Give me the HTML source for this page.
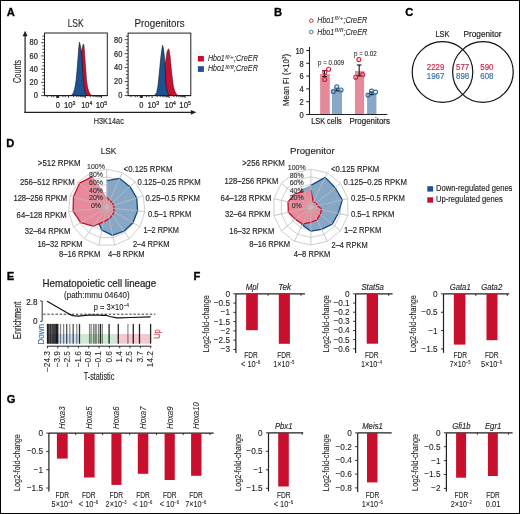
<!DOCTYPE html>
<html><head><meta charset="utf-8"><style>
html,body{margin:0;padding:0;background:#fff;}
#fig{position:relative;width:520px;height:514px;box-sizing:border-box;border:1px solid #000;overflow:hidden;background:#fff;}
svg{position:absolute;left:-1px;top:-1px;will-change:transform;}
text{font-family:"Liberation Sans",sans-serif;}
</style></head><body><div id="fig">
<svg width="520" height="514" viewBox="0 0 520 514" fill="#231f20">
<text stroke="#000" stroke-width="0.3" x="6.72" y="15.7" font-size="11.2" fill="#000" font-weight="bold">A</text>
<text stroke="#000" stroke-width="0.3" x="273.95" y="15.6" font-size="11.2" fill="#000" font-weight="bold">B</text>
<text stroke="#000" stroke-width="0.3" x="405.34" y="15.8" font-size="11.2" fill="#000" font-weight="bold">C</text>
<text stroke="#000" stroke-width="0.3" x="6.35" y="147" font-size="11.2" fill="#000" font-weight="bold">D</text>
<text stroke="#000" stroke-width="0.3" x="6.65" y="280" font-size="11.2" fill="#000" font-weight="bold">E</text>
<text stroke="#000" stroke-width="0.3" x="193.55" y="279.6" font-size="11.2" fill="#000" font-weight="bold">F</text>
<text stroke="#000" stroke-width="0.3" x="6.84" y="403.1" font-size="11.2" fill="#000" font-weight="bold">G</text>
<line x1="25.1" y1="35" x2="25.1" y2="112.3" stroke="#231f20" stroke-width="1.2" stroke-linecap="square"/>
<polygon points="25.1,30.8 22.6,36.2 27.6,36.2" fill="#231f20" stroke="none" stroke-width="1" />
<line x1="25.1" y1="112.3" x2="191.5" y2="112.3" stroke="#231f20" stroke-width="1.2" stroke-linecap="square"/>
<polygon points="196.4,112.3 190.8,109.9 190.8,114.7" fill="#231f20" stroke="none" stroke-width="1" />
<rect x="44.5" y="33" width="62.8" height="62.6" fill="none" stroke="#231f20" stroke-width="1"/>
<line x1="41.1" y1="95.6" x2="44.5" y2="95.6" stroke="#231f20" stroke-width="0.8" />
<line x1="42.3" y1="92.29" x2="44.5" y2="92.29" stroke="#231f20" stroke-width="0.8" />
<line x1="42.3" y1="88.99" x2="44.5" y2="88.99" stroke="#231f20" stroke-width="0.8" />
<line x1="42.3" y1="85.68" x2="44.5" y2="85.68" stroke="#231f20" stroke-width="0.8" />
<line x1="41.1" y1="82.37" x2="44.5" y2="82.37" stroke="#231f20" stroke-width="0.8" />
<line x1="42.3" y1="79.07" x2="44.5" y2="79.07" stroke="#231f20" stroke-width="0.8" />
<line x1="42.3" y1="75.76" x2="44.5" y2="75.76" stroke="#231f20" stroke-width="0.8" />
<line x1="42.3" y1="72.45" x2="44.5" y2="72.45" stroke="#231f20" stroke-width="0.8" />
<line x1="41.1" y1="69.15" x2="44.5" y2="69.15" stroke="#231f20" stroke-width="0.8" />
<line x1="42.3" y1="65.84" x2="44.5" y2="65.84" stroke="#231f20" stroke-width="0.8" />
<line x1="42.3" y1="62.53" x2="44.5" y2="62.53" stroke="#231f20" stroke-width="0.8" />
<line x1="42.3" y1="59.23" x2="44.5" y2="59.23" stroke="#231f20" stroke-width="0.8" />
<line x1="41.1" y1="55.92" x2="44.5" y2="55.92" stroke="#231f20" stroke-width="0.8" />
<line x1="42.3" y1="52.62" x2="44.5" y2="52.62" stroke="#231f20" stroke-width="0.8" />
<line x1="42.3" y1="49.31" x2="44.5" y2="49.31" stroke="#231f20" stroke-width="0.8" />
<line x1="42.3" y1="46" x2="44.5" y2="46" stroke="#231f20" stroke-width="0.8" />
<line x1="41.1" y1="42.7" x2="44.5" y2="42.7" stroke="#231f20" stroke-width="0.8" />
<line x1="42.3" y1="39.39" x2="44.5" y2="39.39" stroke="#231f20" stroke-width="0.8" />
<line x1="42.3" y1="36.08" x2="44.5" y2="36.08" stroke="#231f20" stroke-width="0.8" />
<line x1="73.62" y1="95.6" x2="73.62" y2="97.2" stroke="#231f20" stroke-width="0.8" />
<line x1="90.32" y1="95.6" x2="90.32" y2="97.2" stroke="#231f20" stroke-width="0.8" />
<line x1="76.61" y1="95.6" x2="76.61" y2="97.2" stroke="#231f20" stroke-width="0.8" />
<line x1="93.13" y1="95.6" x2="93.13" y2="97.2" stroke="#231f20" stroke-width="0.8" />
<line x1="78.74" y1="95.6" x2="78.74" y2="97.2" stroke="#231f20" stroke-width="0.8" />
<line x1="95.13" y1="95.6" x2="95.13" y2="97.2" stroke="#231f20" stroke-width="0.8" />
<line x1="80.38" y1="95.6" x2="80.38" y2="97.2" stroke="#231f20" stroke-width="0.8" />
<line x1="96.68" y1="95.6" x2="96.68" y2="97.2" stroke="#231f20" stroke-width="0.8" />
<line x1="81.73" y1="95.6" x2="81.73" y2="97.2" stroke="#231f20" stroke-width="0.8" />
<line x1="97.95" y1="95.6" x2="97.95" y2="97.2" stroke="#231f20" stroke-width="0.8" />
<line x1="82.87" y1="95.6" x2="82.87" y2="97.2" stroke="#231f20" stroke-width="0.8" />
<line x1="99.02" y1="95.6" x2="99.02" y2="97.2" stroke="#231f20" stroke-width="0.8" />
<line x1="83.85" y1="95.6" x2="83.85" y2="97.2" stroke="#231f20" stroke-width="0.8" />
<line x1="99.95" y1="95.6" x2="99.95" y2="97.2" stroke="#231f20" stroke-width="0.8" />
<line x1="84.72" y1="95.6" x2="84.72" y2="97.2" stroke="#231f20" stroke-width="0.8" />
<line x1="100.77" y1="95.6" x2="100.77" y2="97.2" stroke="#231f20" stroke-width="0.8" />
<line x1="68.5" y1="95.6" x2="68.5" y2="98" stroke="#231f20" stroke-width="0.8" />
<line x1="85.5" y1="95.6" x2="85.5" y2="98" stroke="#231f20" stroke-width="0.8" />
<line x1="101.5" y1="95.6" x2="101.5" y2="98" stroke="#231f20" stroke-width="0.8" />
<line x1="47.4" y1="95.6" x2="47.4" y2="97.2" stroke="#231f20" stroke-width="0.8" />
<line x1="51.7" y1="95.6" x2="51.7" y2="97.2" stroke="#231f20" stroke-width="0.8" />
<line x1="53.7" y1="95.6" x2="53.7" y2="97.2" stroke="#231f20" stroke-width="0.8" />
<line x1="62.9" y1="95.6" x2="62.9" y2="97.2" stroke="#231f20" stroke-width="0.8" />
<line x1="65.2" y1="95.6" x2="65.2" y2="97.2" stroke="#231f20" stroke-width="0.8" />
<line x1="56.7" y1="95.6" x2="56.7" y2="98" stroke="#231f20" stroke-width="0.8" />
<line x1="57.7" y1="95.6" x2="57.7" y2="98" stroke="#231f20" stroke-width="0.8" />
<line x1="58.7" y1="95.6" x2="58.7" y2="98" stroke="#231f20" stroke-width="0.8" />
<rect x="56.6" y="95.6" width="2.3" height="2.2" fill="#231f20" />
<rect x="140.2" y="95.6" width="2.3" height="2.2" fill="#231f20" />
<rect x="128.1" y="33.1" width="62.7" height="62.5" fill="none" stroke="#231f20" stroke-width="1"/>
<line x1="124.7" y1="95.6" x2="128.1" y2="95.6" stroke="#231f20" stroke-width="0.8" />
<line x1="125.9" y1="92.1" x2="128.1" y2="92.1" stroke="#231f20" stroke-width="0.8" />
<line x1="125.9" y1="88.61" x2="128.1" y2="88.61" stroke="#231f20" stroke-width="0.8" />
<line x1="125.9" y1="85.11" x2="128.1" y2="85.11" stroke="#231f20" stroke-width="0.8" />
<line x1="124.7" y1="81.62" x2="128.1" y2="81.62" stroke="#231f20" stroke-width="0.8" />
<line x1="125.9" y1="78.12" x2="128.1" y2="78.12" stroke="#231f20" stroke-width="0.8" />
<line x1="125.9" y1="74.63" x2="128.1" y2="74.63" stroke="#231f20" stroke-width="0.8" />
<line x1="125.9" y1="71.13" x2="128.1" y2="71.13" stroke="#231f20" stroke-width="0.8" />
<line x1="124.7" y1="67.64" x2="128.1" y2="67.64" stroke="#231f20" stroke-width="0.8" />
<line x1="125.9" y1="64.14" x2="128.1" y2="64.14" stroke="#231f20" stroke-width="0.8" />
<line x1="125.9" y1="60.65" x2="128.1" y2="60.65" stroke="#231f20" stroke-width="0.8" />
<line x1="125.9" y1="57.15" x2="128.1" y2="57.15" stroke="#231f20" stroke-width="0.8" />
<line x1="124.7" y1="53.66" x2="128.1" y2="53.66" stroke="#231f20" stroke-width="0.8" />
<line x1="125.9" y1="50.16" x2="128.1" y2="50.16" stroke="#231f20" stroke-width="0.8" />
<line x1="125.9" y1="46.67" x2="128.1" y2="46.67" stroke="#231f20" stroke-width="0.8" />
<line x1="125.9" y1="43.17" x2="128.1" y2="43.17" stroke="#231f20" stroke-width="0.8" />
<line x1="124.7" y1="39.68" x2="128.1" y2="39.68" stroke="#231f20" stroke-width="0.8" />
<line x1="125.9" y1="36.18" x2="128.1" y2="36.18" stroke="#231f20" stroke-width="0.8" />
<line x1="157.22" y1="95.6" x2="157.22" y2="97.2" stroke="#231f20" stroke-width="0.8" />
<line x1="173.92" y1="95.6" x2="173.92" y2="97.2" stroke="#231f20" stroke-width="0.8" />
<line x1="160.21" y1="95.6" x2="160.21" y2="97.2" stroke="#231f20" stroke-width="0.8" />
<line x1="176.73" y1="95.6" x2="176.73" y2="97.2" stroke="#231f20" stroke-width="0.8" />
<line x1="162.34" y1="95.6" x2="162.34" y2="97.2" stroke="#231f20" stroke-width="0.8" />
<line x1="178.73" y1="95.6" x2="178.73" y2="97.2" stroke="#231f20" stroke-width="0.8" />
<line x1="163.98" y1="95.6" x2="163.98" y2="97.2" stroke="#231f20" stroke-width="0.8" />
<line x1="180.28" y1="95.6" x2="180.28" y2="97.2" stroke="#231f20" stroke-width="0.8" />
<line x1="165.33" y1="95.6" x2="165.33" y2="97.2" stroke="#231f20" stroke-width="0.8" />
<line x1="181.55" y1="95.6" x2="181.55" y2="97.2" stroke="#231f20" stroke-width="0.8" />
<line x1="166.47" y1="95.6" x2="166.47" y2="97.2" stroke="#231f20" stroke-width="0.8" />
<line x1="182.62" y1="95.6" x2="182.62" y2="97.2" stroke="#231f20" stroke-width="0.8" />
<line x1="167.45" y1="95.6" x2="167.45" y2="97.2" stroke="#231f20" stroke-width="0.8" />
<line x1="183.55" y1="95.6" x2="183.55" y2="97.2" stroke="#231f20" stroke-width="0.8" />
<line x1="168.32" y1="95.6" x2="168.32" y2="97.2" stroke="#231f20" stroke-width="0.8" />
<line x1="184.37" y1="95.6" x2="184.37" y2="97.2" stroke="#231f20" stroke-width="0.8" />
<line x1="152.1" y1="95.6" x2="152.1" y2="98" stroke="#231f20" stroke-width="0.8" />
<line x1="169.1" y1="95.6" x2="169.1" y2="98" stroke="#231f20" stroke-width="0.8" />
<line x1="185.1" y1="95.6" x2="185.1" y2="98" stroke="#231f20" stroke-width="0.8" />
<line x1="131" y1="95.6" x2="131" y2="97.2" stroke="#231f20" stroke-width="0.8" />
<line x1="135.3" y1="95.6" x2="135.3" y2="97.2" stroke="#231f20" stroke-width="0.8" />
<line x1="137.3" y1="95.6" x2="137.3" y2="97.2" stroke="#231f20" stroke-width="0.8" />
<line x1="146.5" y1="95.6" x2="146.5" y2="97.2" stroke="#231f20" stroke-width="0.8" />
<line x1="148.8" y1="95.6" x2="148.8" y2="97.2" stroke="#231f20" stroke-width="0.8" />
<line x1="140.3" y1="95.6" x2="140.3" y2="98" stroke="#231f20" stroke-width="0.8" />
<line x1="141.3" y1="95.6" x2="141.3" y2="98" stroke="#231f20" stroke-width="0.8" />
<line x1="142.3" y1="95.6" x2="142.3" y2="98" stroke="#231f20" stroke-width="0.8" />
<path d="M75.5,95.5 L77.5,82 L79.6,62 L80.8,53.5 L81.8,50 L82.8,45.5 L83.4,44 L84,45.5 L84.9,58 L85.8,70 L86.5,79.6 L87.3,85.5 L88.2,89.5 L89.4,92.8 L90.7,94.8 L92,95.5 Z" fill="#c8102e" stroke="#3a0a10" stroke-width="0.5" />
<path d="M70.8,95.5 L72.2,94.8 L73.5,92.6 L74.5,89.5 L75.4,85 L76.2,79.6 L77.1,70 L77.8,61 L78.6,50 L79.4,42.2 L80.2,45 L81,50 L81.8,55 L82.3,62 L82.8,73.4 L83.6,83 L84.7,90.8 L85.7,93.7 L86.8,95.2 L88,95.5 Z" fill="#1d5290" stroke="#0a1420" stroke-width="0.6" />
<path d="M157,95.5 L160,85 L162.5,75 L164.3,66 L165.8,60 L167,52 L168.4,48.8 L169.3,50.5 L170.2,57 L171.1,67.1 L172.2,77 L173.3,85.8 L174.6,90.5 L175.9,93.5 L177.3,94.9 L178.8,95.5 Z" fill="#c8102e" stroke="#3a0a10" stroke-width="0.5" />
<path d="M153.8,95.5 L155.2,94.8 L156.7,92.5 L158,85.8 L159,76 L159.9,67 L160.9,57 L161.8,50 L162.6,45.3 L163.4,48.5 L164.2,55 L164.9,64.6 L165.4,75 L166.1,85.8 L167.2,92 L168.6,95 L170,95.5 Z" fill="#1d5290" stroke="#0a1420" stroke-width="0.6" />
<line x1="44.5" y1="95.6" x2="107.3" y2="95.6" stroke="#231f20" stroke-width="1" />
<line x1="128.1" y1="95.6" x2="190.8" y2="95.6" stroke="#231f20" stroke-width="1" />
<text stroke="#231f20" stroke-width="0.12" x="75.6" y="26.6" font-size="10.4" text-anchor="middle" textLength="15.9" lengthAdjust="spacingAndGlyphs">LSK</text>
<text stroke="#231f20" stroke-width="0.12" x="159.6" y="26.6" font-size="10.4" text-anchor="middle" textLength="50.2" lengthAdjust="spacingAndGlyphs">Progenitors</text>
<text stroke="#231f20" stroke-width="0.22" x="37.9" y="98.35" font-size="8.3" text-anchor="end" textLength="4.15" lengthAdjust="spacingAndGlyphs">0</text>
<text stroke="#231f20" stroke-width="0.22" x="122.3" y="98.45" font-size="8.3" text-anchor="end" textLength="4.15" lengthAdjust="spacingAndGlyphs">0</text>
<text stroke="#231f20" stroke-width="0.22" x="37.9" y="85.13" font-size="8.3" text-anchor="end" textLength="8.31" lengthAdjust="spacingAndGlyphs">20</text>
<text stroke="#231f20" stroke-width="0.22" x="122.3" y="84.47" font-size="8.3" text-anchor="end" textLength="8.31" lengthAdjust="spacingAndGlyphs">20</text>
<text stroke="#231f20" stroke-width="0.22" x="37.9" y="71.91" font-size="8.3" text-anchor="end" textLength="8.31" lengthAdjust="spacingAndGlyphs">40</text>
<text stroke="#231f20" stroke-width="0.22" x="122.3" y="70.49" font-size="8.3" text-anchor="end" textLength="8.31" lengthAdjust="spacingAndGlyphs">40</text>
<text stroke="#231f20" stroke-width="0.22" x="37.9" y="58.69" font-size="8.3" text-anchor="end" textLength="8.31" lengthAdjust="spacingAndGlyphs">60</text>
<text stroke="#231f20" stroke-width="0.22" x="122.3" y="56.51" font-size="8.3" text-anchor="end" textLength="8.31" lengthAdjust="spacingAndGlyphs">60</text>
<text stroke="#231f20" stroke-width="0.22" x="37.9" y="45.47" font-size="8.3" text-anchor="end" textLength="8.31" lengthAdjust="spacingAndGlyphs">80</text>
<text stroke="#231f20" stroke-width="0.22" x="122.3" y="42.53" font-size="8.3" text-anchor="end" textLength="8.31" lengthAdjust="spacingAndGlyphs">80</text>
<text stroke="#231f20" stroke-width="0.22" x="57.7" y="108" font-size="8.3" text-anchor="middle" textLength="4.15" lengthAdjust="spacingAndGlyphs">0</text>
<text stroke="#231f20" stroke-width="0.22" x="63.9" y="108" font-size="8.3" textLength="11.6" lengthAdjust="spacingAndGlyphs">10<tspan font-size="5.6" dy="-3">3</tspan></text>
<text stroke="#231f20" stroke-width="0.22" x="81.2" y="108" font-size="8.3" textLength="11" lengthAdjust="spacingAndGlyphs">10<tspan font-size="5.6" dy="-3">4</tspan></text>
<text stroke="#231f20" stroke-width="0.22" x="95.7" y="108" font-size="8.3" textLength="11.6" lengthAdjust="spacingAndGlyphs">10<tspan font-size="5.6" dy="-3">5</tspan></text>
<text stroke="#231f20" stroke-width="0.22" x="141.3" y="108" font-size="8.3" text-anchor="middle" textLength="4.15" lengthAdjust="spacingAndGlyphs">0</text>
<text stroke="#231f20" stroke-width="0.22" x="147.5" y="108" font-size="8.3" textLength="11.6" lengthAdjust="spacingAndGlyphs">10<tspan font-size="5.6" dy="-3">3</tspan></text>
<text stroke="#231f20" stroke-width="0.22" x="164.8" y="108" font-size="8.3" textLength="11" lengthAdjust="spacingAndGlyphs">10<tspan font-size="5.6" dy="-3">4</tspan></text>
<text stroke="#231f20" stroke-width="0.22" x="179.3" y="108" font-size="8.3" textLength="11.6" lengthAdjust="spacingAndGlyphs">10<tspan font-size="5.6" dy="-3">5</tspan></text>
<text stroke="#231f20" stroke-width="0.15" transform="translate(21.3,71.4) rotate(-90)" x="0" y="0" font-size="10.3" text-anchor="middle" textLength="23" lengthAdjust="spacingAndGlyphs">Counts</text>
<text stroke="#231f20" stroke-width="0.15" x="108.8" y="124.3" font-size="9.9" text-anchor="middle" textLength="30" lengthAdjust="spacingAndGlyphs">H3K14ac</text>
<rect x="197.9" y="55.9" width="6" height="5.6" fill="#c8102e" />
<rect x="197.9" y="66.2" width="6" height="5.7" fill="#1d5290" />
<text stroke="#231f20" stroke-width="0.08" x="207.9" y="61.3" font-size="8.2" font-style="italic" textLength="16.9" lengthAdjust="spacingAndGlyphs">Hbo1</text>
<text stroke="#231f20" stroke-width="0.02" x="225.2" y="58.5" font-size="4.9" font-style="italic" textLength="8.6" lengthAdjust="spacingAndGlyphs">fl/+</text>
<text stroke="#231f20" stroke-width="0.08" x="234" y="61.3" font-size="8.2" font-style="italic" textLength="23.9" lengthAdjust="spacingAndGlyphs">;CreER</text>
<text stroke="#231f20" stroke-width="0.08" x="207.9" y="71.4" font-size="8.2" font-style="italic" textLength="16.9" lengthAdjust="spacingAndGlyphs">Hbo1</text>
<text stroke="#231f20" stroke-width="0.02" x="225.2" y="68.6" font-size="4.9" font-style="italic" textLength="8.6" lengthAdjust="spacingAndGlyphs">fl/fl</text>
<text stroke="#231f20" stroke-width="0.08" x="234" y="71.4" font-size="8.2" font-style="italic" textLength="23.9" lengthAdjust="spacingAndGlyphs">;CreER</text>
<text stroke="#231f20" stroke-width="0.08" x="317.3" y="23.2" font-size="8.2" font-style="italic" textLength="16.9" lengthAdjust="spacingAndGlyphs">Hbo1</text>
<text stroke="#231f20" stroke-width="0.02" x="334.6" y="20.4" font-size="4.9" font-style="italic" textLength="8.6" lengthAdjust="spacingAndGlyphs">fl/+</text>
<text stroke="#231f20" stroke-width="0.08" x="343.4" y="23.2" font-size="8.2" font-style="italic" textLength="23.9" lengthAdjust="spacingAndGlyphs">;CreER</text>
<text stroke="#231f20" stroke-width="0.08" x="317.3" y="34.5" font-size="8.2" font-style="italic" textLength="16.9" lengthAdjust="spacingAndGlyphs">Hbo1</text>
<text stroke="#231f20" stroke-width="0.02" x="334.6" y="31.7" font-size="4.9" font-style="italic" textLength="8.6" lengthAdjust="spacingAndGlyphs">fl/fl</text>
<text stroke="#231f20" stroke-width="0.08" x="343.4" y="34.5" font-size="8.2" font-style="italic" textLength="23.9" lengthAdjust="spacingAndGlyphs">;CreER</text>
<circle cx="311.3" cy="20.7" r="1.8" fill="none" stroke="#d0203f" stroke-width="0.95" />
<circle cx="311.3" cy="32" r="1.8" fill="none" stroke="#3d73a8" stroke-width="0.95" />
<rect x="320.1" y="74" width="9.7" height="40.5" fill="#e38a9b" />
<rect x="331.9" y="89.4" width="10.1" height="25.1" fill="#88a8c6" />
<rect x="354.9" y="71.1" width="9.2" height="43.4" fill="#e38a9b" />
<rect x="367.1" y="93.4" width="9.3" height="21.1" fill="#88a8c6" />
<line x1="309.5" y1="47" x2="309.5" y2="114.5" stroke="#231f20" stroke-width="1.1" />
<line x1="309.5" y1="114.5" x2="387.3" y2="114.5" stroke="#231f20" stroke-width="1.1" />
<line x1="306.3" y1="114.5" x2="309.5" y2="114.5" stroke="#231f20" stroke-width="1" />
<text stroke="#231f20" stroke-width="0.22" x="303.8" y="117.8" font-size="9" text-anchor="end" textLength="4.2" lengthAdjust="spacingAndGlyphs">0</text>
<line x1="306.3" y1="101.7" x2="309.5" y2="101.7" stroke="#231f20" stroke-width="1" />
<text stroke="#231f20" stroke-width="0.22" x="303.8" y="105" font-size="9" text-anchor="end" textLength="4.2" lengthAdjust="spacingAndGlyphs">2</text>
<line x1="306.3" y1="88.9" x2="309.5" y2="88.9" stroke="#231f20" stroke-width="1" />
<text stroke="#231f20" stroke-width="0.22" x="303.8" y="92.2" font-size="9" text-anchor="end" textLength="4.2" lengthAdjust="spacingAndGlyphs">4</text>
<line x1="306.3" y1="76.1" x2="309.5" y2="76.1" stroke="#231f20" stroke-width="1" />
<text stroke="#231f20" stroke-width="0.22" x="303.8" y="79.4" font-size="9" text-anchor="end" textLength="4.2" lengthAdjust="spacingAndGlyphs">6</text>
<line x1="306.3" y1="63.3" x2="309.5" y2="63.3" stroke="#231f20" stroke-width="1" />
<text stroke="#231f20" stroke-width="0.22" x="303.8" y="66.6" font-size="9" text-anchor="end" textLength="4.2" lengthAdjust="spacingAndGlyphs">8</text>
<line x1="306.3" y1="50.5" x2="309.5" y2="50.5" stroke="#231f20" stroke-width="1" />
<text stroke="#231f20" stroke-width="0.22" x="303.8" y="53.8" font-size="9" text-anchor="end" textLength="8.41" lengthAdjust="spacingAndGlyphs">10</text>
<text stroke="#231f20" stroke-width="0.15" transform="translate(288.9,80) rotate(-90)" x="0" y="0" font-size="9.7" text-anchor="middle" textLength="52" lengthAdjust="spacingAndGlyphs">Mean FI (×10<tspan font-size="5.5" dy="-2.8">3</tspan><tspan dy="2.8">)</tspan></text>
<line x1="324.5" y1="70.6" x2="324.5" y2="76.6" stroke="#111" stroke-width="1.05" />
<line x1="322.2" y1="70.6" x2="326.8" y2="70.6" stroke="#111" stroke-width="1.1" />
<line x1="322.2" y1="76.6" x2="326.8" y2="76.6" stroke="#111" stroke-width="1.1" />
<line x1="336.8" y1="88.2" x2="336.8" y2="90.8" stroke="#111" stroke-width="1.05" />
<line x1="334.5" y1="88.2" x2="339.1" y2="88.2" stroke="#111" stroke-width="1.1" />
<line x1="334.5" y1="90.8" x2="339.1" y2="90.8" stroke="#111" stroke-width="1.1" />
<line x1="359.2" y1="65" x2="359.2" y2="75.9" stroke="#111" stroke-width="1.05" />
<line x1="356.9" y1="65" x2="361.5" y2="65" stroke="#111" stroke-width="1.1" />
<line x1="356.9" y1="75.9" x2="361.5" y2="75.9" stroke="#111" stroke-width="1.1" />
<line x1="371.5" y1="92" x2="371.5" y2="94.6" stroke="#111" stroke-width="1.05" />
<line x1="369.2" y1="92" x2="373.8" y2="92" stroke="#111" stroke-width="1.1" />
<line x1="369.2" y1="94.6" x2="373.8" y2="94.6" stroke="#111" stroke-width="1.1" />
<circle cx="328.6" cy="69.2" r="2" fill="none" stroke="#d0203f" stroke-width="1.1" />
<circle cx="324.8" cy="72.2" r="2" fill="none" stroke="#d0203f" stroke-width="1.1" />
<circle cx="324.7" cy="79.5" r="2" fill="none" stroke="#d0203f" stroke-width="1.1" />
<circle cx="358.9" cy="59.6" r="2" fill="none" stroke="#d0203f" stroke-width="1.1" />
<circle cx="355.7" cy="77.3" r="2" fill="none" stroke="#d0203f" stroke-width="1.1" />
<circle cx="362.7" cy="74.5" r="2" fill="none" stroke="#d0203f" stroke-width="1.1" />
<circle cx="336.8" cy="86.9" r="2" fill="none" stroke="#2f68a3" stroke-width="1.1" />
<circle cx="333.3" cy="91.5" r="2" fill="none" stroke="#2f68a3" stroke-width="1.1" />
<circle cx="341.1" cy="90" r="2" fill="none" stroke="#2f68a3" stroke-width="1.1" />
<circle cx="368" cy="95.1" r="2" fill="none" stroke="#2f68a3" stroke-width="1.1" />
<circle cx="371.5" cy="91.1" r="2" fill="none" stroke="#2f68a3" stroke-width="1.1" />
<circle cx="375.5" cy="92.1" r="2" fill="none" stroke="#2f68a3" stroke-width="1.1" />
<text stroke="#231f20" stroke-width="0.1" x="331.1" y="65.3" font-size="7.9" text-anchor="middle" textLength="26" lengthAdjust="spacingAndGlyphs">p = 0.009</text>
<text stroke="#231f20" stroke-width="0.1" x="365.3" y="55.7" font-size="7.9" text-anchor="middle" textLength="22.6" lengthAdjust="spacingAndGlyphs">p = 0.02</text>
<text stroke="#231f20" stroke-width="0.22" x="326.5" y="124.4" font-size="9.2" text-anchor="middle" textLength="30.5" lengthAdjust="spacingAndGlyphs">LSK cells</text>
<text stroke="#231f20" stroke-width="0.22" x="369.7" y="124.4" font-size="9.2" text-anchor="middle" textLength="40.5" lengthAdjust="spacingAndGlyphs">Progenitors</text>
<circle cx="442.5" cy="72" r="30.3" fill="none" stroke="#111" stroke-width="1.2" />
<circle cx="482.9" cy="72" r="30.3" fill="none" stroke="#111" stroke-width="1.2" />
<text stroke="#231f20" stroke-width="0.22" x="442.5" y="37" font-size="9.5" text-anchor="middle" textLength="14" lengthAdjust="spacingAndGlyphs">LSK</text>
<text stroke="#231f20" stroke-width="0.22" x="482.5" y="37" font-size="9.5" text-anchor="middle" textLength="38.1" lengthAdjust="spacingAndGlyphs">Progenitor</text>
<text stroke="#d12a50" stroke-width="0.22" x="435.6" y="70.1" font-size="9.2" text-anchor="middle" fill="#d12a50" textLength="17.6" lengthAdjust="spacingAndGlyphs">2229</text>
<text stroke="#3f74ab" stroke-width="0.22" x="435.6" y="79.2" font-size="9.2" text-anchor="middle" fill="#3f74ab" textLength="17.6" lengthAdjust="spacingAndGlyphs">1967</text>
<text stroke="#d12a50" stroke-width="0.22" x="462.6" y="70.1" font-size="9.2" text-anchor="middle" fill="#d12a50" textLength="13.2" lengthAdjust="spacingAndGlyphs">577</text>
<text stroke="#3f74ab" stroke-width="0.22" x="462.6" y="79.2" font-size="9.2" text-anchor="middle" fill="#3f74ab" textLength="13.2" lengthAdjust="spacingAndGlyphs">898</text>
<text stroke="#d12a50" stroke-width="0.22" x="486.9" y="70.1" font-size="9.2" text-anchor="middle" fill="#d12a50" textLength="13.2" lengthAdjust="spacingAndGlyphs">590</text>
<text stroke="#3f74ab" stroke-width="0.22" x="486.9" y="79.2" font-size="9.2" text-anchor="middle" fill="#3f74ab" textLength="13.2" lengthAdjust="spacingAndGlyphs">608</text>
<polygon points="106.7,199.92 109.82,200.58 112.41,202.46 114,205.23 114.34,208.4 113.35,211.44 111.21,213.81 108.3,215.11 105.1,215.11 102.19,213.81 100.05,211.44 99.06,208.4 99.4,205.23 100.99,202.46 103.58,200.58" fill="none" stroke="#c9c9c9" stroke-width="0.9" />
<polygon points="106.7,192.24 112.95,193.57 118.11,197.32 121.31,202.85 121.98,209.21 120,215.28 115.73,220.03 109.89,222.62 103.51,222.62 97.67,220.03 93.4,215.28 91.42,209.21 92.09,202.85 95.29,197.32 100.45,193.57" fill="none" stroke="#c9c9c9" stroke-width="0.9" />
<polygon points="106.7,184.56 116.07,186.55 123.82,192.18 128.61,200.48 129.61,210.01 126.65,219.12 120.24,226.24 111.49,230.14 101.91,230.14 93.16,226.24 86.75,219.12 83.79,210.01 84.79,200.48 89.58,192.18 97.33,186.55" fill="none" stroke="#c9c9c9" stroke-width="0.9" />
<polygon points="106.7,176.88 119.19,179.54 129.53,187.04 135.92,198.11 137.25,210.81 133.3,222.96 124.76,232.45 113.09,237.65 100.31,237.65 88.64,232.45 80.1,222.96 76.15,210.81 77.48,198.11 83.87,187.04 94.21,179.54" fill="none" stroke="#c9c9c9" stroke-width="0.9" />
<polygon points="106.7,169.2 122.32,172.52 135.24,181.91 143.22,195.73 144.89,211.61 139.96,226.8 129.27,238.67 114.68,245.16 98.72,245.16 84.13,238.67 73.44,226.8 68.51,211.61 70.18,195.73 78.16,181.91 91.08,172.52" fill="none" stroke="#c9c9c9" stroke-width="0.9" />
<polygon points="106.7,180.72 119.66,178.48 129.96,186.66 136.65,197.87 137.63,210.85 132.97,222.77 123.85,231.21 112.61,235.4 101.91,230.14 97.45,220.34 99.38,211.82 102.12,208.08 103.41,206.53 105.27,206.32 106.7,207.6" fill="#87a7c6" stroke="none" stroke-width="1" />
<polyline points="106.7,180.72 119.66,178.48 129.96,186.66 136.65,197.87 137.63,210.85 132.97,222.77 123.85,231.21 112.61,235.4 101.91,230.14 97.45,220.34 99.38,211.82 102.12,208.08 103.41,206.53 105.27,206.32 106.7,207.6" fill="none" stroke="#0f4b8a" stroke-width="1.3" stroke-linejoin="round"/>
<polygon points="106.7,197.23 109.82,200.58 112.12,202.72 113.64,205.35 113.96,208.36 114.02,211.82 112.34,215.37 109.1,218.87 103.67,221.87 93.16,226.24 80.76,222.58 73.09,211.13 73.47,196.8 79.59,183.19 92.8,176.38" fill="#e8899c" stroke="none" stroke-width="1" />
<polyline points="106.7,197.23 109.82,200.58 112.12,202.72 113.64,205.35 113.96,208.36 114.02,211.82 112.34,215.37 109.1,218.87 103.67,221.87 93.16,226.24 80.76,222.58 73.09,211.13 73.47,196.8 79.59,183.19 92.8,176.38" fill="none" stroke="#c8102e" stroke-width="1.3" stroke-linejoin="round"/>
<line x1="106.7" y1="207.6" x2="106.7" y2="169.2" stroke="#bdbdbd" stroke-width="0.8" />
<line x1="106.7" y1="207.6" x2="122.32" y2="172.52" stroke="#bdbdbd" stroke-width="0.8" />
<line x1="106.7" y1="207.6" x2="135.24" y2="181.91" stroke="#bdbdbd" stroke-width="0.8" />
<line x1="106.7" y1="207.6" x2="143.22" y2="195.73" stroke="#bdbdbd" stroke-width="0.8" />
<line x1="106.7" y1="207.6" x2="144.89" y2="211.61" stroke="#bdbdbd" stroke-width="0.8" />
<line x1="106.7" y1="207.6" x2="139.96" y2="226.8" stroke="#bdbdbd" stroke-width="0.8" />
<line x1="106.7" y1="207.6" x2="129.27" y2="238.67" stroke="#bdbdbd" stroke-width="0.8" />
<line x1="106.7" y1="207.6" x2="114.68" y2="245.16" stroke="#bdbdbd" stroke-width="0.8" />
<line x1="106.7" y1="207.6" x2="98.72" y2="245.16" stroke="#bdbdbd" stroke-width="0.8" />
<line x1="106.7" y1="207.6" x2="84.13" y2="238.67" stroke="#bdbdbd" stroke-width="0.8" />
<line x1="106.7" y1="207.6" x2="73.44" y2="226.8" stroke="#bdbdbd" stroke-width="0.8" />
<line x1="106.7" y1="207.6" x2="68.51" y2="211.61" stroke="#bdbdbd" stroke-width="0.8" />
<line x1="106.7" y1="207.6" x2="70.18" y2="195.73" stroke="#bdbdbd" stroke-width="0.8" />
<line x1="106.7" y1="207.6" x2="78.16" y2="181.91" stroke="#bdbdbd" stroke-width="0.8" />
<line x1="106.7" y1="207.6" x2="91.08" y2="172.52" stroke="#bdbdbd" stroke-width="0.8" />
<circle cx="106.7" cy="207.6" r="2.3" fill="#bdbdbd" stroke="none" stroke-width="1" />
<polygon points="310.9,199.52 314.19,200.27 316.83,202.37 318.29,205.41 318.29,208.79 316.83,211.83 314.19,213.93 310.9,214.68 307.61,213.93 304.97,211.83 303.51,208.79 303.51,205.41 304.97,202.37 307.61,200.27" fill="none" stroke="#c9c9c9" stroke-width="0.9" />
<polygon points="310.9,191.94 317.48,193.44 322.75,197.65 325.68,203.73 325.68,210.47 322.75,216.55 317.48,220.76 310.9,222.26 304.32,220.76 299.05,216.55 296.12,210.47 296.12,203.73 299.05,197.65 304.32,193.44" fill="none" stroke="#c9c9c9" stroke-width="0.9" />
<polygon points="310.9,184.36 320.77,186.61 328.68,192.92 333.07,202.04 333.07,212.16 328.68,221.28 320.77,227.59 310.9,229.84 301.03,227.59 293.12,221.28 288.73,212.16 288.73,202.04 293.12,192.92 301.03,186.61" fill="none" stroke="#c9c9c9" stroke-width="0.9" />
<polygon points="310.9,176.78 324.06,179.78 334.61,188.2 340.46,200.35 340.46,213.85 334.61,226 324.06,234.42 310.9,237.42 297.74,234.42 287.19,226 281.34,213.85 281.34,200.35 287.19,188.2 297.74,179.78" fill="none" stroke="#c9c9c9" stroke-width="0.9" />
<polygon points="310.9,169.2 327.34,172.95 340.53,183.47 347.85,198.67 347.85,215.53 340.53,230.73 327.34,241.25 310.9,245 294.46,241.25 281.27,230.73 273.95,215.53 273.95,198.67 281.27,183.47 294.46,172.95" fill="none" stroke="#c9c9c9" stroke-width="0.9" />
<polygon points="310.9,185.31 325.21,177.39 335.2,187.72 342.31,199.93 338.24,213.34 332.23,224.11 321.59,229.3 310.9,231.17 302.35,224.86 297.27,217.97 296.12,210.47 296.86,203.9 297.57,196.47 302.18,189" fill="#87a7c6" stroke="none" stroke-width="1" />
<polyline points="310.9,185.31 325.21,177.39 335.2,187.72 342.31,199.93 338.24,213.34 332.23,224.11 321.59,229.3 310.9,231.17 302.35,224.86 297.27,217.97 296.12,210.47 296.86,203.9 297.57,196.47 302.18,189" fill="none" stroke="#0f4b8a" stroke-width="1.3" stroke-linejoin="round"/>
<polygon points="310.9,189.86 313.28,202.15 315.94,203.08 317.55,205.58 321.62,209.55 320.09,214.43 317.07,219.91 310.9,222.26 302.68,224.17 295.49,219.39 288.36,212.24 287.99,201.87 294.6,194.1 303.34,191.39" fill="#e8899c" stroke="none" stroke-width="1" />
<polyline points="310.9,189.86 313.28,202.15 315.94,203.08 317.55,205.58 321.62,209.55 320.09,214.43 317.07,219.91 310.9,222.26 302.68,224.17 295.49,219.39 288.36,212.24 287.99,201.87 294.6,194.1 303.34,191.39" fill="none" stroke="#c8102e" stroke-width="1.3" stroke-linejoin="round"/>
<line x1="310.9" y1="207.1" x2="310.9" y2="169.2" stroke="#bdbdbd" stroke-width="0.8" />
<line x1="310.9" y1="207.1" x2="327.34" y2="172.95" stroke="#bdbdbd" stroke-width="0.8" />
<line x1="310.9" y1="207.1" x2="340.53" y2="183.47" stroke="#bdbdbd" stroke-width="0.8" />
<line x1="310.9" y1="207.1" x2="347.85" y2="198.67" stroke="#bdbdbd" stroke-width="0.8" />
<line x1="310.9" y1="207.1" x2="347.85" y2="215.53" stroke="#bdbdbd" stroke-width="0.8" />
<line x1="310.9" y1="207.1" x2="340.53" y2="230.73" stroke="#bdbdbd" stroke-width="0.8" />
<line x1="310.9" y1="207.1" x2="327.34" y2="241.25" stroke="#bdbdbd" stroke-width="0.8" />
<line x1="310.9" y1="207.1" x2="310.9" y2="245" stroke="#bdbdbd" stroke-width="0.8" />
<line x1="310.9" y1="207.1" x2="294.46" y2="241.25" stroke="#bdbdbd" stroke-width="0.8" />
<line x1="310.9" y1="207.1" x2="281.27" y2="230.73" stroke="#bdbdbd" stroke-width="0.8" />
<line x1="310.9" y1="207.1" x2="273.95" y2="215.53" stroke="#bdbdbd" stroke-width="0.8" />
<line x1="310.9" y1="207.1" x2="273.95" y2="198.67" stroke="#bdbdbd" stroke-width="0.8" />
<line x1="310.9" y1="207.1" x2="281.27" y2="183.47" stroke="#bdbdbd" stroke-width="0.8" />
<line x1="310.9" y1="207.1" x2="294.46" y2="172.95" stroke="#bdbdbd" stroke-width="0.8" />
<circle cx="310.9" cy="207.1" r="2.3" fill="#bdbdbd" stroke="none" stroke-width="1" />
<text stroke="#333333" stroke-width="0.13" x="96" y="168.7" font-size="8.1" text-anchor="middle" fill="#333333" textLength="17.82" lengthAdjust="spacingAndGlyphs">100%</text>
<text stroke="#333333" stroke-width="0.13" x="296.7" y="169.9" font-size="8.1" text-anchor="middle" fill="#333333" textLength="17.82" lengthAdjust="spacingAndGlyphs">100%</text>
<text stroke="#333333" stroke-width="0.13" x="96" y="176.64" font-size="8.1" text-anchor="middle" fill="#333333" textLength="13.94" lengthAdjust="spacingAndGlyphs">80%</text>
<text stroke="#333333" stroke-width="0.13" x="296.7" y="177.5" font-size="8.1" text-anchor="middle" fill="#333333" textLength="13.94" lengthAdjust="spacingAndGlyphs">80%</text>
<text stroke="#333333" stroke-width="0.13" x="96" y="184.58" font-size="8.1" text-anchor="middle" fill="#333333" textLength="13.94" lengthAdjust="spacingAndGlyphs">60%</text>
<text stroke="#333333" stroke-width="0.13" x="296.7" y="185.1" font-size="8.1" text-anchor="middle" fill="#333333" textLength="13.94" lengthAdjust="spacingAndGlyphs">60%</text>
<text stroke="#333333" stroke-width="0.13" x="96" y="192.52" font-size="8.1" text-anchor="middle" fill="#333333" textLength="13.94" lengthAdjust="spacingAndGlyphs">40%</text>
<text stroke="#333333" stroke-width="0.13" x="296.7" y="192.7" font-size="8.1" text-anchor="middle" fill="#333333" textLength="13.94" lengthAdjust="spacingAndGlyphs">40%</text>
<text stroke="#333333" stroke-width="0.13" x="96" y="200.46" font-size="8.1" text-anchor="middle" fill="#333333" textLength="13.94" lengthAdjust="spacingAndGlyphs">20%</text>
<text stroke="#333333" stroke-width="0.13" x="296.7" y="200.3" font-size="8.1" text-anchor="middle" fill="#333333" textLength="13.94" lengthAdjust="spacingAndGlyphs">20%</text>
<text stroke="#333333" stroke-width="0.13" x="96" y="208.4" font-size="8.1" text-anchor="middle" fill="#333333" textLength="10.07" lengthAdjust="spacingAndGlyphs">0%</text>
<text stroke="#333333" stroke-width="0.13" x="296.7" y="207.9" font-size="8.1" text-anchor="middle" fill="#333333" textLength="10.07" lengthAdjust="spacingAndGlyphs">0%</text>
<text stroke="#231f20" stroke-width="0.16" x="123.6" y="172.05" font-size="8.8" textLength="48.8" lengthAdjust="spacingAndGlyphs">&lt;0.125 RPKM</text>
<text stroke="#231f20" stroke-width="0.16" x="137.6" y="184.75" font-size="8.8" textLength="63" lengthAdjust="spacingAndGlyphs">0.125–0.25 RPKM</text>
<text stroke="#231f20" stroke-width="0.16" x="145.4" y="200.85" font-size="8.8" textLength="54.6" lengthAdjust="spacingAndGlyphs">0.25–0.5 RPKM</text>
<text stroke="#231f20" stroke-width="0.16" x="147.9" y="216.95" font-size="8.8" textLength="43.4" lengthAdjust="spacingAndGlyphs">0.5–1 RPKM</text>
<text stroke="#231f20" stroke-width="0.16" x="143.4" y="233.35" font-size="8.8" textLength="35.6" lengthAdjust="spacingAndGlyphs">1–2 RPKM</text>
<text stroke="#231f20" stroke-width="0.16" x="132.9" y="247.15" font-size="8.8" textLength="36.6" lengthAdjust="spacingAndGlyphs">2–4 RPKM</text>
<text stroke="#231f20" stroke-width="0.16" x="108" y="257.15" font-size="8.8" textLength="36.6" lengthAdjust="spacingAndGlyphs">4–8 RPKM</text>
<text stroke="#231f20" stroke-width="0.16" x="58.9" y="256.95" font-size="8.8" textLength="41.4" lengthAdjust="spacingAndGlyphs">8–16 RPKM</text>
<text stroke="#231f20" stroke-width="0.16" x="37.4" y="247.45" font-size="8.8" textLength="45.2" lengthAdjust="spacingAndGlyphs">16–32 RPKM</text>
<text stroke="#231f20" stroke-width="0.16" x="24.8" y="234.15" font-size="8.8" textLength="45.5" lengthAdjust="spacingAndGlyphs">32–64 RPKM</text>
<text stroke="#231f20" stroke-width="0.16" x="16.6" y="217.55" font-size="8.8" textLength="50.2" lengthAdjust="spacingAndGlyphs">64–128 RPKM</text>
<text stroke="#231f20" stroke-width="0.16" x="13.4" y="200.95" font-size="8.8" textLength="53.8" lengthAdjust="spacingAndGlyphs">128–256 RPKM</text>
<text stroke="#231f20" stroke-width="0.16" x="19.9" y="184.65" font-size="8.8" textLength="54.8" lengthAdjust="spacingAndGlyphs">256–512 RPKM</text>
<text stroke="#231f20" stroke-width="0.16" x="37.8" y="166.15" font-size="8.8" textLength="42.8" lengthAdjust="spacingAndGlyphs">&gt;512 RPKM</text>
<text stroke="#231f20" stroke-width="0.16" x="330.9" y="172.05" font-size="8.8" textLength="48.4" lengthAdjust="spacingAndGlyphs">&lt;0.125 RPKM</text>
<text stroke="#231f20" stroke-width="0.16" x="343.6" y="184.75" font-size="8.8" textLength="63.3" lengthAdjust="spacingAndGlyphs">0.125–0.25 RPKM</text>
<text stroke="#231f20" stroke-width="0.16" x="350.9" y="200.85" font-size="8.8" textLength="54.1" lengthAdjust="spacingAndGlyphs">0.25–0.5 RPKM</text>
<text stroke="#231f20" stroke-width="0.16" x="350.9" y="216.95" font-size="8.8" textLength="43.4" lengthAdjust="spacingAndGlyphs">0.5–1 RPKM</text>
<text stroke="#231f20" stroke-width="0.16" x="344.1" y="233.35" font-size="8.8" textLength="37.2" lengthAdjust="spacingAndGlyphs">1–2 RPKM</text>
<text stroke="#231f20" stroke-width="0.16" x="331.5" y="247.55" font-size="8.8" textLength="36.2" lengthAdjust="spacingAndGlyphs">2–4 RPKM</text>
<text stroke="#231f20" stroke-width="0.16" x="293.7" y="256.85" font-size="8.8" textLength="36.6" lengthAdjust="spacingAndGlyphs">4–8 RPKM</text>
<text stroke="#231f20" stroke-width="0.16" x="249.3" y="247.35" font-size="8.8" textLength="40.8" lengthAdjust="spacingAndGlyphs">8–16 RPKM</text>
<text stroke="#231f20" stroke-width="0.16" x="229.2" y="234.25" font-size="8.8" textLength="45" lengthAdjust="spacingAndGlyphs">16–32 RPKM</text>
<text stroke="#231f20" stroke-width="0.16" x="225" y="217.35" font-size="8.8" textLength="45.6" lengthAdjust="spacingAndGlyphs">32–64 RPKM</text>
<text stroke="#231f20" stroke-width="0.16" x="220.6" y="200.95" font-size="8.8" textLength="50.8" lengthAdjust="spacingAndGlyphs">64–128 RPKM</text>
<text stroke="#231f20" stroke-width="0.16" x="224.5" y="184.45" font-size="8.8" textLength="53.8" lengthAdjust="spacingAndGlyphs">128–256 RPKM</text>
<text stroke="#231f20" stroke-width="0.16" x="242.2" y="165.95" font-size="8.8" textLength="42.5" lengthAdjust="spacingAndGlyphs">&gt;256 RPKM</text>
<text stroke="#231f20" stroke-width="0.15" x="108.5" y="153.7" font-size="9.9" text-anchor="middle" textLength="15.6" lengthAdjust="spacingAndGlyphs">LSK</text>
<text stroke="#231f20" stroke-width="0.15" x="312.3" y="153.7" font-size="9.9" text-anchor="middle" textLength="44.6" lengthAdjust="spacingAndGlyphs">Progenitor</text>
<rect x="427.3" y="186.2" width="5.8" height="5.4" fill="#1d5290" />
<rect x="427.3" y="197.3" width="5.8" height="5.4" fill="#c8102e" />
<text stroke="#231f20" stroke-width="0.15" x="436" y="191.3" font-size="8.3" textLength="76.4" lengthAdjust="spacingAndGlyphs">Down-regulated genes</text>
<text stroke="#231f20" stroke-width="0.15" x="436" y="202.4" font-size="8.3" textLength="66.8" lengthAdjust="spacingAndGlyphs">Up-regulated genes</text>
<text stroke="#231f20" stroke-width="0.22" x="42.6" y="287" font-size="10.1" textLength="113.6" lengthAdjust="spacingAndGlyphs">Hematopoietic cell lineage</text>
<text stroke="#231f20" stroke-width="0.12" x="64" y="297.6" font-size="8.2" textLength="65.6" lengthAdjust="spacingAndGlyphs">(path:mmu 04640)</text>
<text stroke="#231f20" stroke-width="0.12" x="93.8" y="309.8" font-size="8.3" textLength="35.2" lengthAdjust="spacingAndGlyphs">p = 3×10<tspan font-size="5.4" dy="-3.3">−4</tspan></text>
<line x1="42.2" y1="301" x2="42.2" y2="321.3" stroke="#231f20" stroke-width="0.9" />
<line x1="40.2" y1="301" x2="42.2" y2="301" stroke="#231f20" stroke-width="0.9" />
<line x1="40.2" y1="321.3" x2="42.2" y2="321.3" stroke="#231f20" stroke-width="0.9" />
<text stroke="#231f20" stroke-width="0.22" x="37.4" y="304.5" font-size="9.2" text-anchor="end" textLength="11.25" lengthAdjust="spacingAndGlyphs">2.8</text>
<text stroke="#231f20" stroke-width="0.22" x="37.4" y="324.4" font-size="9.2" text-anchor="end" textLength="4.5" lengthAdjust="spacingAndGlyphs">0</text>
<text stroke="#231f20" stroke-width="0.15" transform="translate(21.4,320.3) rotate(-90)" x="0" y="0" font-size="10.1" text-anchor="middle" textLength="37.3" lengthAdjust="spacingAndGlyphs">Enrichment</text>
<line x1="43.2" y1="314.2" x2="155.3" y2="314.2" stroke="#231f20" stroke-width="0.9" stroke-dasharray="2.4 1.7"/>
<polyline points="47.1,301.2 69.2,314.1 72.7,315.6 75.4,315.9 78.5,316.2 85.2,315.3 88.8,315.2 97,315 102.7,315.4 106.2,315.2 109.6,316.5 116.9,317.9 120,317.9 130.4,317.5 150.6,316.8" fill="none" stroke="#111" stroke-width="1.2" stroke-linejoin="round"/>
<rect x="47.1" y="334" width="33.2" height="9.7" fill="#cfe0f1" />
<rect x="80.3" y="334" width="35.9" height="9.7" fill="#cdebd0" />
<rect x="116.2" y="334" width="34" height="9.7" fill="#f4c8d1" />
<rect x="46.85" y="323.9" width="1.3" height="19.8" fill="#000" opacity="0.85"/>
<rect x="47.65" y="323.9" width="1.3" height="19.8" fill="#000" opacity="0.59"/>
<rect x="48.35" y="323.9" width="1.3" height="19.8" fill="#000" opacity="0.68"/>
<rect x="49.55" y="323.9" width="1.3" height="19.8" fill="#000" opacity="0.85"/>
<rect x="50.35" y="323.9" width="1.3" height="19.8" fill="#000" opacity="0.42"/>
<rect x="51.05" y="323.9" width="1.3" height="19.8" fill="#000" opacity="0.51"/>
<rect x="51.85" y="323.9" width="1.3" height="19.8" fill="#000" opacity="0.51"/>
<rect x="52.55" y="323.9" width="1.3" height="19.8" fill="#000" opacity="0.72"/>
<rect x="53.35" y="323.9" width="1.3" height="19.8" fill="#000" opacity="0.51"/>
<rect x="54.15" y="323.9" width="1.3" height="19.8" fill="#000" opacity="0.72"/>
<rect x="54.95" y="323.9" width="1.3" height="19.8" fill="#000" opacity="0.51"/>
<rect x="55.65" y="323.9" width="1.3" height="19.8" fill="#000" opacity="0.85"/>
<rect x="56.45" y="323.9" width="1.3" height="19.8" fill="#000" opacity="0.59"/>
<rect x="57.15" y="323.9" width="1.3" height="19.8" fill="#000" opacity="0.85"/>
<rect x="59.85" y="323.9" width="1.3" height="19.8" fill="#000" opacity="0.47"/>
<rect x="62.95" y="323.9" width="1.3" height="19.8" fill="#000" opacity="0.47"/>
<rect x="66.05" y="323.9" width="1.3" height="19.8" fill="#000" opacity="0.68"/>
<rect x="69.15" y="323.9" width="1.3" height="19.8" fill="#000" opacity="0.42"/>
<rect x="72.55" y="323.9" width="1.3" height="19.8" fill="#000" opacity="0.68"/>
<rect x="76.05" y="323.9" width="1.3" height="19.8" fill="#000" opacity="0.42"/>
<rect x="78.85" y="323.9" width="1.3" height="19.8" fill="#000" opacity="0.81"/>
<rect x="88.95" y="323.9" width="1.3" height="19.8" fill="#000" opacity="0.47"/>
<rect x="90.55" y="323.9" width="1.3" height="19.8" fill="#000" opacity="0.42"/>
<rect x="92.85" y="323.9" width="1.3" height="19.8" fill="#000" opacity="0.47"/>
<rect x="94.35" y="323.9" width="1.3" height="19.8" fill="#000" opacity="0.42"/>
<rect x="95.55" y="323.9" width="1.3" height="19.8" fill="#000" opacity="0.47"/>
<rect x="97.85" y="323.9" width="1.3" height="19.8" fill="#000" opacity="0.47"/>
<rect x="99.75" y="323.9" width="1.3" height="19.8" fill="#000" opacity="0.85"/>
<rect x="101.65" y="323.9" width="1.3" height="19.8" fill="#000" opacity="0.47"/>
<rect x="108.45" y="323.9" width="1.3" height="19.8" fill="#000" opacity="0.85"/>
<rect x="117.65" y="323.9" width="1.3" height="19.8" fill="#000" opacity="0.85"/>
<rect x="127.25" y="323.9" width="1.3" height="19.8" fill="#000" opacity="0.42"/>
<rect x="132.65" y="323.9" width="1.3" height="19.8" fill="#000" opacity="0.85"/>
<rect x="138.85" y="323.9" width="1.3" height="19.8" fill="#000" opacity="0.85"/>
<rect x="149.95" y="323.9" width="1.3" height="19.8" fill="#000" opacity="0.85"/>
<line x1="47" y1="346.2" x2="151.3" y2="346.2" stroke="#231f20" stroke-width="1" />
<line x1="47.4" y1="346.2" x2="47.4" y2="348.3" stroke="#231f20" stroke-width="0.9" />
<text stroke="#231f20" stroke-width="0.06" transform="translate(49.75,351) rotate(-90)" x="0" y="0" font-size="8.8" text-anchor="end" textLength="21.15" lengthAdjust="spacingAndGlyphs">−24.3</text>
<line x1="57.73" y1="346.2" x2="57.73" y2="348.3" stroke="#231f20" stroke-width="0.9" />
<text stroke="#231f20" stroke-width="0.06" transform="translate(60.08,351) rotate(-90)" x="0" y="0" font-size="8.8" text-anchor="end" textLength="16.5" lengthAdjust="spacingAndGlyphs">−3.9</text>
<line x1="68.06" y1="346.2" x2="68.06" y2="348.3" stroke="#231f20" stroke-width="0.9" />
<text stroke="#231f20" stroke-width="0.06" transform="translate(70.41,351) rotate(-90)" x="0" y="0" font-size="8.8" text-anchor="end" textLength="16.5" lengthAdjust="spacingAndGlyphs">−2.5</text>
<line x1="78.39" y1="346.2" x2="78.39" y2="348.3" stroke="#231f20" stroke-width="0.9" />
<text stroke="#231f20" stroke-width="0.06" transform="translate(80.74,351) rotate(-90)" x="0" y="0" font-size="8.8" text-anchor="end" textLength="16.5" lengthAdjust="spacingAndGlyphs">−1.6</text>
<line x1="88.72" y1="346.2" x2="88.72" y2="348.3" stroke="#231f20" stroke-width="0.9" />
<text stroke="#231f20" stroke-width="0.06" transform="translate(91.07,351) rotate(-90)" x="0" y="0" font-size="8.8" text-anchor="end" textLength="16.5" lengthAdjust="spacingAndGlyphs">−0.8</text>
<line x1="99.05" y1="346.2" x2="99.05" y2="348.3" stroke="#231f20" stroke-width="0.9" />
<text stroke="#231f20" stroke-width="0.06" transform="translate(101.4,351) rotate(-90)" x="0" y="0" font-size="8.8" text-anchor="end" textLength="16.5" lengthAdjust="spacingAndGlyphs">−0.1</text>
<line x1="109.38" y1="346.2" x2="109.38" y2="348.3" stroke="#231f20" stroke-width="0.9" />
<text stroke="#231f20" stroke-width="0.06" transform="translate(111.73,351) rotate(-90)" x="0" y="0" font-size="8.8" text-anchor="end" textLength="11.62" lengthAdjust="spacingAndGlyphs">0.6</text>
<line x1="119.71" y1="346.2" x2="119.71" y2="348.3" stroke="#231f20" stroke-width="0.9" />
<text stroke="#231f20" stroke-width="0.06" transform="translate(122.06,351) rotate(-90)" x="0" y="0" font-size="8.8" text-anchor="end" textLength="11.62" lengthAdjust="spacingAndGlyphs">1.4</text>
<line x1="130.04" y1="346.2" x2="130.04" y2="348.3" stroke="#231f20" stroke-width="0.9" />
<text stroke="#231f20" stroke-width="0.06" transform="translate(132.39,351) rotate(-90)" x="0" y="0" font-size="8.8" text-anchor="end" textLength="11.62" lengthAdjust="spacingAndGlyphs">2.5</text>
<line x1="140.37" y1="346.2" x2="140.37" y2="348.3" stroke="#231f20" stroke-width="0.9" />
<text stroke="#231f20" stroke-width="0.06" transform="translate(142.72,351) rotate(-90)" x="0" y="0" font-size="8.8" text-anchor="end" textLength="11.62" lengthAdjust="spacingAndGlyphs">3.7</text>
<line x1="150.7" y1="346.2" x2="150.7" y2="348.3" stroke="#231f20" stroke-width="0.9" />
<text stroke="#231f20" stroke-width="0.06" transform="translate(153.05,351) rotate(-90)" x="0" y="0" font-size="8.8" text-anchor="end" textLength="16.27" lengthAdjust="spacingAndGlyphs">14.2</text>
<text stroke="#231f20" stroke-width="0.15" x="99" y="379.9" font-size="10" text-anchor="middle" textLength="30.5" lengthAdjust="spacingAndGlyphs">T-statistic</text>
<text stroke="#3f7ab8" stroke-width="0.22" transform="translate(44.2,334.3) rotate(-90)" x="0" y="0" font-size="9.2" text-anchor="middle" fill="#3f7ab8" textLength="20.5" lengthAdjust="spacingAndGlyphs">Down</text>
<text stroke="#d8475f" stroke-width="0.22" transform="translate(159.8,334) rotate(-90)" x="0" y="0" font-size="9.2" text-anchor="middle" fill="#d8475f" textLength="9.6" lengthAdjust="spacingAndGlyphs">Up</text>
<line x1="235.9" y1="293.8" x2="235.9" y2="353" stroke="#231f20" stroke-width="1.2" />
<line x1="235.9" y1="293.8" x2="304.9" y2="293.8" stroke="#231f20" stroke-width="1.2" />
<line x1="233.3" y1="293.8" x2="235.9" y2="293.8" stroke="#231f20" stroke-width="0.9" />
<text stroke="#231f20" stroke-width="0.12" x="230" y="296.7" font-size="9.7" text-anchor="end" textLength="4.59" lengthAdjust="spacingAndGlyphs">0</text>
<line x1="233.3" y1="303.07" x2="235.9" y2="303.07" stroke="#231f20" stroke-width="0.9" />
<text stroke="#231f20" stroke-width="0.12" x="230" y="305.97" font-size="9.7" text-anchor="end" textLength="16.28" lengthAdjust="spacingAndGlyphs">−0.5</text>
<line x1="233.3" y1="312.35" x2="235.9" y2="312.35" stroke="#231f20" stroke-width="0.9" />
<text stroke="#231f20" stroke-width="0.12" x="230" y="315.25" font-size="9.7" text-anchor="end" textLength="9.4" lengthAdjust="spacingAndGlyphs">−1</text>
<line x1="233.3" y1="321.62" x2="235.9" y2="321.62" stroke="#231f20" stroke-width="0.9" />
<text stroke="#231f20" stroke-width="0.12" x="230" y="324.52" font-size="9.7" text-anchor="end" textLength="16.28" lengthAdjust="spacingAndGlyphs">−1.5</text>
<line x1="233.3" y1="330.9" x2="235.9" y2="330.9" stroke="#231f20" stroke-width="0.9" />
<text stroke="#231f20" stroke-width="0.12" x="230" y="333.8" font-size="9.7" text-anchor="end" textLength="9.4" lengthAdjust="spacingAndGlyphs">−2</text>
<line x1="233.3" y1="340.18" x2="235.9" y2="340.18" stroke="#231f20" stroke-width="0.9" />
<text stroke="#231f20" stroke-width="0.12" x="230" y="343.07" font-size="9.7" text-anchor="end" textLength="16.28" lengthAdjust="spacingAndGlyphs">−2.5</text>
<line x1="233.3" y1="349.45" x2="235.9" y2="349.45" stroke="#231f20" stroke-width="0.9" />
<text stroke="#231f20" stroke-width="0.12" x="230" y="352.35" font-size="9.7" text-anchor="end" textLength="9.4" lengthAdjust="spacingAndGlyphs">−3</text>
<line x1="268.1" y1="293.8" x2="268.1" y2="295.8" stroke="#231f20" stroke-width="0.9" />
<line x1="301" y1="293.8" x2="301" y2="295.8" stroke="#231f20" stroke-width="0.9" />
<rect x="246.1" y="293.8" width="11.7" height="36.4" fill="#c8102e" />
<rect x="278.8" y="293.8" width="11.1" height="50" fill="#c8102e" />
<text stroke="#231f20" stroke-width="0.12" transform="translate(208.7,323.7) rotate(-90)" x="0" y="0" font-size="9.5" text-anchor="middle" textLength="57" lengthAdjust="spacingAndGlyphs">Log2-fold-change</text>
<line x1="355.6" y1="293.9" x2="355.6" y2="352.9" stroke="#231f20" stroke-width="1.2" />
<line x1="355.6" y1="293.9" x2="392.6" y2="293.9" stroke="#231f20" stroke-width="1.2" />
<line x1="353" y1="293.9" x2="355.6" y2="293.9" stroke="#231f20" stroke-width="0.9" />
<text stroke="#231f20" stroke-width="0.12" x="349.7" y="296.8" font-size="9.7" text-anchor="end" textLength="4.59" lengthAdjust="spacingAndGlyphs">0</text>
<line x1="353" y1="303.05" x2="355.6" y2="303.05" stroke="#231f20" stroke-width="0.9" />
<text stroke="#231f20" stroke-width="0.12" x="349.7" y="305.95" font-size="9.7" text-anchor="end" textLength="16.28" lengthAdjust="spacingAndGlyphs">−0.1</text>
<line x1="353" y1="312.2" x2="355.6" y2="312.2" stroke="#231f20" stroke-width="0.9" />
<text stroke="#231f20" stroke-width="0.12" x="349.7" y="315.1" font-size="9.7" text-anchor="end" textLength="16.28" lengthAdjust="spacingAndGlyphs">−0.2</text>
<line x1="353" y1="321.35" x2="355.6" y2="321.35" stroke="#231f20" stroke-width="0.9" />
<text stroke="#231f20" stroke-width="0.12" x="349.7" y="324.25" font-size="9.7" text-anchor="end" textLength="16.28" lengthAdjust="spacingAndGlyphs">−0.3</text>
<line x1="353" y1="330.5" x2="355.6" y2="330.5" stroke="#231f20" stroke-width="0.9" />
<text stroke="#231f20" stroke-width="0.12" x="349.7" y="333.4" font-size="9.7" text-anchor="end" textLength="16.28" lengthAdjust="spacingAndGlyphs">−0.4</text>
<line x1="353" y1="339.65" x2="355.6" y2="339.65" stroke="#231f20" stroke-width="0.9" />
<text stroke="#231f20" stroke-width="0.12" x="349.7" y="342.55" font-size="9.7" text-anchor="end" textLength="16.28" lengthAdjust="spacingAndGlyphs">−0.5</text>
<line x1="353" y1="348.8" x2="355.6" y2="348.8" stroke="#231f20" stroke-width="0.9" />
<text stroke="#231f20" stroke-width="0.12" x="349.7" y="351.7" font-size="9.7" text-anchor="end" textLength="16.28" lengthAdjust="spacingAndGlyphs">−0.6</text>
<line x1="388.7" y1="293.9" x2="388.7" y2="295.9" stroke="#231f20" stroke-width="0.9" />
<rect x="366.7" y="293.9" width="11.3" height="49.8" fill="#c8102e" />
<text stroke="#231f20" stroke-width="0.12" transform="translate(328.8,323.7) rotate(-90)" x="0" y="0" font-size="9.5" text-anchor="middle" textLength="57" lengthAdjust="spacingAndGlyphs">Log2-fold-change</text>
<line x1="443.5" y1="293.9" x2="443.5" y2="352.8" stroke="#231f20" stroke-width="1.2" />
<line x1="443.5" y1="293.9" x2="509.2" y2="293.9" stroke="#231f20" stroke-width="1.2" />
<line x1="440.9" y1="293.9" x2="443.5" y2="293.9" stroke="#231f20" stroke-width="0.9" />
<text stroke="#231f20" stroke-width="0.12" x="437.6" y="296.8" font-size="9.7" text-anchor="end" textLength="4.59" lengthAdjust="spacingAndGlyphs">0</text>
<line x1="440.9" y1="312.25" x2="443.5" y2="312.25" stroke="#231f20" stroke-width="0.9" />
<text stroke="#231f20" stroke-width="0.12" x="437.6" y="315.15" font-size="9.7" text-anchor="end" textLength="16.28" lengthAdjust="spacingAndGlyphs">−0.5</text>
<line x1="440.9" y1="330.6" x2="443.5" y2="330.6" stroke="#231f20" stroke-width="0.9" />
<text stroke="#231f20" stroke-width="0.12" x="437.6" y="333.5" font-size="9.7" text-anchor="end" textLength="9.4" lengthAdjust="spacingAndGlyphs">−1</text>
<line x1="440.9" y1="348.95" x2="443.5" y2="348.95" stroke="#231f20" stroke-width="0.9" />
<text stroke="#231f20" stroke-width="0.12" x="437.6" y="351.85" font-size="9.7" text-anchor="end" textLength="16.28" lengthAdjust="spacingAndGlyphs">−1.5</text>
<line x1="475.8" y1="293.9" x2="475.8" y2="295.9" stroke="#231f20" stroke-width="0.9" />
<line x1="507.3" y1="293.9" x2="507.3" y2="295.9" stroke="#231f20" stroke-width="0.9" />
<rect x="453.8" y="293.9" width="11.6" height="50.7" fill="#c8102e" />
<rect x="486.5" y="293.9" width="11" height="46.3" fill="#c8102e" />
<text stroke="#231f20" stroke-width="0.12" transform="translate(415.8,323.65) rotate(-90)" x="0" y="0" font-size="9.5" text-anchor="middle" textLength="57" lengthAdjust="spacingAndGlyphs">Log2-fold-change</text>
<line x1="48.9" y1="433.1" x2="48.9" y2="491.4" stroke="#231f20" stroke-width="1.2" />
<line x1="48.9" y1="433.1" x2="213.7" y2="433.1" stroke="#231f20" stroke-width="1.2" />
<line x1="46.3" y1="433.1" x2="48.9" y2="433.1" stroke="#231f20" stroke-width="0.9" />
<text stroke="#231f20" stroke-width="0.12" x="43" y="436" font-size="9.7" text-anchor="end" textLength="4.59" lengthAdjust="spacingAndGlyphs">0</text>
<line x1="46.3" y1="451.4" x2="48.9" y2="451.4" stroke="#231f20" stroke-width="0.9" />
<text stroke="#231f20" stroke-width="0.12" x="43" y="454.3" font-size="9.7" text-anchor="end" textLength="16.28" lengthAdjust="spacingAndGlyphs">−0.5</text>
<line x1="46.3" y1="469.7" x2="48.9" y2="469.7" stroke="#231f20" stroke-width="0.9" />
<text stroke="#231f20" stroke-width="0.12" x="43" y="472.6" font-size="9.7" text-anchor="end" textLength="9.4" lengthAdjust="spacingAndGlyphs">−1</text>
<line x1="46.3" y1="488" x2="48.9" y2="488" stroke="#231f20" stroke-width="0.9" />
<text stroke="#231f20" stroke-width="0.12" x="43" y="490.9" font-size="9.7" text-anchor="end" textLength="16.28" lengthAdjust="spacingAndGlyphs">−1.5</text>
<line x1="75.7" y1="433.1" x2="75.7" y2="435.1" stroke="#231f20" stroke-width="0.9" />
<line x1="102.6" y1="433.1" x2="102.6" y2="435.1" stroke="#231f20" stroke-width="0.9" />
<line x1="129.7" y1="433.1" x2="129.7" y2="435.1" stroke="#231f20" stroke-width="0.9" />
<line x1="156.5" y1="433.1" x2="156.5" y2="435.1" stroke="#231f20" stroke-width="0.9" />
<line x1="183.2" y1="433.1" x2="183.2" y2="435.1" stroke="#231f20" stroke-width="0.9" />
<line x1="210" y1="433.1" x2="210" y2="435.1" stroke="#231f20" stroke-width="0.9" />
<rect x="56.9" y="433.1" width="10.8" height="25.5" fill="#c8102e" />
<rect x="84" y="433.1" width="10.6" height="44.4" fill="#c8102e" />
<rect x="111.4" y="433.1" width="10.1" height="51.8" fill="#c8102e" />
<rect x="137.8" y="433.1" width="10.5" height="40.7" fill="#c8102e" />
<rect x="164.6" y="433.1" width="10.2" height="46.9" fill="#c8102e" />
<rect x="191.1" y="433.1" width="10.4" height="42.7" fill="#c8102e" />
<text stroke="#231f20" stroke-width="0.12" transform="translate(20.05,462.55) rotate(-90)" x="0" y="0" font-size="9.5" text-anchor="middle" textLength="57" lengthAdjust="spacingAndGlyphs">Log2-fold-change</text>
<line x1="268.5" y1="432.8" x2="268.5" y2="491.4" stroke="#231f20" stroke-width="1.2" />
<line x1="268.5" y1="432.8" x2="303.2" y2="432.8" stroke="#231f20" stroke-width="1.2" />
<line x1="265.9" y1="432.8" x2="268.5" y2="432.8" stroke="#231f20" stroke-width="0.9" />
<text stroke="#231f20" stroke-width="0.12" x="262.6" y="435.7" font-size="9.7" text-anchor="end" textLength="4.59" lengthAdjust="spacingAndGlyphs">0</text>
<line x1="265.9" y1="451.3" x2="268.5" y2="451.3" stroke="#231f20" stroke-width="0.9" />
<text stroke="#231f20" stroke-width="0.12" x="262.6" y="454.2" font-size="9.7" text-anchor="end" textLength="16.28" lengthAdjust="spacingAndGlyphs">−0.5</text>
<line x1="265.9" y1="469.8" x2="268.5" y2="469.8" stroke="#231f20" stroke-width="0.9" />
<text stroke="#231f20" stroke-width="0.12" x="262.6" y="472.7" font-size="9.7" text-anchor="end" textLength="9.4" lengthAdjust="spacingAndGlyphs">−1</text>
<line x1="265.9" y1="488.3" x2="268.5" y2="488.3" stroke="#231f20" stroke-width="0.9" />
<text stroke="#231f20" stroke-width="0.12" x="262.6" y="491.2" font-size="9.7" text-anchor="end" textLength="16.28" lengthAdjust="spacingAndGlyphs">−1.5</text>
<line x1="302.1" y1="432.8" x2="302.1" y2="434.8" stroke="#231f20" stroke-width="0.9" />
<rect x="278.2" y="432.8" width="10.6" height="53.7" fill="#c8102e" />
<text stroke="#231f20" stroke-width="0.12" transform="translate(240.5,462.4) rotate(-90)" x="0" y="0" font-size="9.5" text-anchor="middle" textLength="57" lengthAdjust="spacingAndGlyphs">Log2-fold-change</text>
<line x1="357.7" y1="432.9" x2="357.7" y2="491.9" stroke="#231f20" stroke-width="1.2" />
<line x1="357.7" y1="432.9" x2="391.7" y2="432.9" stroke="#231f20" stroke-width="1.2" />
<line x1="355.1" y1="432.9" x2="357.7" y2="432.9" stroke="#231f20" stroke-width="0.9" />
<text stroke="#231f20" stroke-width="0.12" x="351.8" y="435.8" font-size="9.7" text-anchor="end" textLength="4.59" lengthAdjust="spacingAndGlyphs">0</text>
<line x1="355.1" y1="446.65" x2="357.7" y2="446.65" stroke="#231f20" stroke-width="0.9" />
<text stroke="#231f20" stroke-width="0.12" x="351.8" y="449.55" font-size="9.7" text-anchor="end" textLength="16.28" lengthAdjust="spacingAndGlyphs">−0.2</text>
<line x1="355.1" y1="460.4" x2="357.7" y2="460.4" stroke="#231f20" stroke-width="0.9" />
<text stroke="#231f20" stroke-width="0.12" x="351.8" y="463.3" font-size="9.7" text-anchor="end" textLength="16.28" lengthAdjust="spacingAndGlyphs">−0.4</text>
<line x1="355.1" y1="474.15" x2="357.7" y2="474.15" stroke="#231f20" stroke-width="0.9" />
<text stroke="#231f20" stroke-width="0.12" x="351.8" y="477.05" font-size="9.7" text-anchor="end" textLength="16.28" lengthAdjust="spacingAndGlyphs">−0.6</text>
<line x1="355.1" y1="487.9" x2="357.7" y2="487.9" stroke="#231f20" stroke-width="0.9" />
<text stroke="#231f20" stroke-width="0.12" x="351.8" y="490.8" font-size="9.7" text-anchor="end" textLength="16.28" lengthAdjust="spacingAndGlyphs">−0.8</text>
<rect x="367" y="432.9" width="10.5" height="49.5" fill="#c8102e" />
<text stroke="#231f20" stroke-width="0.12" transform="translate(328.9,462.7) rotate(-90)" x="0" y="0" font-size="9.5" text-anchor="middle" textLength="57" lengthAdjust="spacingAndGlyphs">Log2-fold-change</text>
<line x1="446.4" y1="432.8" x2="446.4" y2="491.4" stroke="#231f20" stroke-width="1.2" />
<line x1="446.4" y1="432.8" x2="512.6" y2="432.8" stroke="#231f20" stroke-width="1.2" />
<line x1="443.8" y1="432.8" x2="446.4" y2="432.8" stroke="#231f20" stroke-width="0.9" />
<text stroke="#231f20" stroke-width="0.12" x="440.5" y="435.7" font-size="9.7" text-anchor="end" textLength="4.59" lengthAdjust="spacingAndGlyphs">0</text>
<line x1="443.8" y1="446.7" x2="446.4" y2="446.7" stroke="#231f20" stroke-width="0.9" />
<text stroke="#231f20" stroke-width="0.12" x="440.5" y="449.6" font-size="9.7" text-anchor="end" textLength="16.28" lengthAdjust="spacingAndGlyphs">−0.5</text>
<line x1="443.8" y1="460.6" x2="446.4" y2="460.6" stroke="#231f20" stroke-width="0.9" />
<text stroke="#231f20" stroke-width="0.12" x="440.5" y="463.5" font-size="9.7" text-anchor="end" textLength="9.4" lengthAdjust="spacingAndGlyphs">−1</text>
<line x1="443.8" y1="474.5" x2="446.4" y2="474.5" stroke="#231f20" stroke-width="0.9" />
<text stroke="#231f20" stroke-width="0.12" x="440.5" y="477.4" font-size="9.7" text-anchor="end" textLength="16.28" lengthAdjust="spacingAndGlyphs">−1.5</text>
<line x1="443.8" y1="488.4" x2="446.4" y2="488.4" stroke="#231f20" stroke-width="0.9" />
<text stroke="#231f20" stroke-width="0.12" x="440.5" y="491.3" font-size="9.7" text-anchor="end" textLength="9.4" lengthAdjust="spacingAndGlyphs">−2</text>
<line x1="477.3" y1="432.8" x2="477.3" y2="434.8" stroke="#231f20" stroke-width="0.9" />
<line x1="508.4" y1="432.8" x2="508.4" y2="434.8" stroke="#231f20" stroke-width="0.9" />
<rect x="456.1" y="432.8" width="10" height="44.9" fill="#c8102e" />
<rect x="487.9" y="432.8" width="9.9" height="43.2" fill="#c8102e" />
<text stroke="#231f20" stroke-width="0.12" transform="translate(418.3,462.4) rotate(-90)" x="0" y="0" font-size="9.5" text-anchor="middle" textLength="57" lengthAdjust="spacingAndGlyphs">Log2-fold-change</text>
<text stroke="#231f20" stroke-width="0.14" x="252.1" y="289.6" font-size="8.6" text-anchor="middle" font-style="italic" textLength="12.47" lengthAdjust="spacingAndGlyphs">Mpl</text>
<text stroke="#231f20" stroke-width="0.14" x="284.6" y="289.6" font-size="8.6" text-anchor="middle" font-style="italic" textLength="12.9" lengthAdjust="spacingAndGlyphs">Tek</text>
<text stroke="#231f20" stroke-width="0.14" x="372.6" y="289.6" font-size="8.6" text-anchor="middle" font-style="italic" textLength="22.38" lengthAdjust="spacingAndGlyphs">Stat5a</text>
<text stroke="#231f20" stroke-width="0.14" x="460.2" y="289.6" font-size="8.6" text-anchor="middle" font-style="italic" textLength="21.08" lengthAdjust="spacingAndGlyphs">Gata1</text>
<text stroke="#231f20" stroke-width="0.14" x="491.7" y="289.6" font-size="8.6" text-anchor="middle" font-style="italic" textLength="21.08" lengthAdjust="spacingAndGlyphs">Gata2</text>
<text stroke="#231f20" stroke-width="0.14" x="283.7" y="429" font-size="8.6" text-anchor="middle" font-style="italic" textLength="17.64" lengthAdjust="spacingAndGlyphs">Pbx1</text>
<text stroke="#231f20" stroke-width="0.14" x="372.5" y="429" font-size="8.6" text-anchor="middle" font-style="italic" textLength="20.65" lengthAdjust="spacingAndGlyphs">Meis1</text>
<text stroke="#231f20" stroke-width="0.14" x="461.4" y="429" font-size="8.6" text-anchor="middle" font-style="italic" textLength="18.5" lengthAdjust="spacingAndGlyphs">Gfi1b</text>
<text stroke="#231f20" stroke-width="0.14" x="493.1" y="429" font-size="8.6" text-anchor="middle" font-style="italic" textLength="16.35" lengthAdjust="spacingAndGlyphs">Egr1</text>
<text stroke="#231f20" stroke-width="0.05" transform="translate(65.2,428.9) rotate(-90)" x="0" y="0" font-size="8.6" font-style="italic" textLength="22.37" lengthAdjust="spacingAndGlyphs">Hoxa3</text>
<text stroke="#231f20" stroke-width="0.05" transform="translate(92.2,428.9) rotate(-90)" x="0" y="0" font-size="8.6" font-style="italic" textLength="22.37" lengthAdjust="spacingAndGlyphs">Hoxa5</text>
<text stroke="#231f20" stroke-width="0.05" transform="translate(119.35,428.9) rotate(-90)" x="0" y="0" font-size="8.6" font-style="italic" textLength="22.37" lengthAdjust="spacingAndGlyphs">Hoxa6</text>
<text stroke="#231f20" stroke-width="0.05" transform="translate(145.95,428.9) rotate(-90)" x="0" y="0" font-size="8.6" font-style="italic" textLength="22.37" lengthAdjust="spacingAndGlyphs">Hoxa7</text>
<text stroke="#231f20" stroke-width="0.05" transform="translate(172.6,428.9) rotate(-90)" x="0" y="0" font-size="8.6" font-style="italic" textLength="22.37" lengthAdjust="spacingAndGlyphs">Hoxa9</text>
<text stroke="#231f20" stroke-width="0.05" transform="translate(199.2,428.9) rotate(-90)" x="0" y="0" font-size="8.6" font-style="italic" textLength="26.68" lengthAdjust="spacingAndGlyphs">Hoxa10</text>
<text stroke="#231f20" stroke-width="0.1" x="251" y="358.4" font-size="8.6" text-anchor="middle" textLength="13.6" lengthAdjust="spacingAndGlyphs">FDR</text>
<text stroke="#231f20" stroke-width="0.1" x="250.7" y="367.4" font-size="8.6" text-anchor="middle" textLength="19.4" lengthAdjust="spacingAndGlyphs">&lt; 10<tspan font-size="4.8" dy="-3.4">−6</tspan></text>
<text stroke="#231f20" stroke-width="0.1" x="284" y="358.4" font-size="8.6" text-anchor="middle" textLength="13.6" lengthAdjust="spacingAndGlyphs">FDR</text>
<text stroke="#231f20" stroke-width="0.1" x="283.8" y="367.4" font-size="8.6" text-anchor="middle" textLength="21" lengthAdjust="spacingAndGlyphs">1×10<tspan font-size="4.8" dy="-3.4">−5</tspan></text>
<text stroke="#231f20" stroke-width="0.1" x="371.7" y="358.4" font-size="8.6" text-anchor="middle" textLength="13.6" lengthAdjust="spacingAndGlyphs">FDR</text>
<text stroke="#231f20" stroke-width="0.1" x="371.5" y="367.4" font-size="8.6" text-anchor="middle" textLength="21" lengthAdjust="spacingAndGlyphs">1×10<tspan font-size="4.8" dy="-3.4">−4</tspan></text>
<text stroke="#231f20" stroke-width="0.1" x="460.2" y="358.4" font-size="8.6" text-anchor="middle" textLength="13.6" lengthAdjust="spacingAndGlyphs">FDR</text>
<text stroke="#231f20" stroke-width="0.1" x="460" y="367.4" font-size="8.6" text-anchor="middle" textLength="21" lengthAdjust="spacingAndGlyphs">7×10<tspan font-size="4.8" dy="-3.4">−5</tspan></text>
<text stroke="#231f20" stroke-width="0.1" x="491.7" y="358.4" font-size="8.6" text-anchor="middle" textLength="13.6" lengthAdjust="spacingAndGlyphs">FDR</text>
<text stroke="#231f20" stroke-width="0.1" x="491.5" y="367.4" font-size="8.6" text-anchor="middle" textLength="21" lengthAdjust="spacingAndGlyphs">5×10<tspan font-size="4.8" dy="-3.4">−6</tspan></text>
<text stroke="#231f20" stroke-width="0.1" x="62.3" y="498" font-size="8.6" text-anchor="middle" textLength="13.6" lengthAdjust="spacingAndGlyphs">FDR</text>
<text stroke="#231f20" stroke-width="0.1" x="62.1" y="507" font-size="8.6" text-anchor="middle" textLength="21" lengthAdjust="spacingAndGlyphs">5×10<tspan font-size="4.8" dy="-3.4">−4</tspan></text>
<text stroke="#231f20" stroke-width="0.1" x="88.8" y="498" font-size="8.6" text-anchor="middle" textLength="13.6" lengthAdjust="spacingAndGlyphs">FDR</text>
<text stroke="#231f20" stroke-width="0.1" x="88.5" y="507" font-size="8.6" text-anchor="middle" textLength="19.4" lengthAdjust="spacingAndGlyphs">&lt; 10<tspan font-size="4.8" dy="-3.4">−6</tspan></text>
<text stroke="#231f20" stroke-width="0.1" x="116.3" y="498" font-size="8.6" text-anchor="middle" textLength="13.6" lengthAdjust="spacingAndGlyphs">FDR</text>
<text stroke="#231f20" stroke-width="0.1" x="116.1" y="507" font-size="8.6" text-anchor="middle" textLength="21" lengthAdjust="spacingAndGlyphs">2×10<tspan font-size="4.8" dy="-3.4">−3</tspan></text>
<text stroke="#231f20" stroke-width="0.1" x="143" y="498" font-size="8.6" text-anchor="middle" textLength="13.6" lengthAdjust="spacingAndGlyphs">FDR</text>
<text stroke="#231f20" stroke-width="0.1" x="142.7" y="507" font-size="8.6" text-anchor="middle" textLength="19.4" lengthAdjust="spacingAndGlyphs">&lt; 10<tspan font-size="4.8" dy="-3.4">−6</tspan></text>
<text stroke="#231f20" stroke-width="0.1" x="169.7" y="498" font-size="8.6" text-anchor="middle" textLength="13.6" lengthAdjust="spacingAndGlyphs">FDR</text>
<text stroke="#231f20" stroke-width="0.1" x="169.4" y="507" font-size="8.6" text-anchor="middle" textLength="19.4" lengthAdjust="spacingAndGlyphs">&lt; 10<tspan font-size="4.8" dy="-3.4">−6</tspan></text>
<text stroke="#231f20" stroke-width="0.1" x="196" y="498" font-size="8.6" text-anchor="middle" textLength="13.6" lengthAdjust="spacingAndGlyphs">FDR</text>
<text stroke="#231f20" stroke-width="0.1" x="195.8" y="507" font-size="8.6" text-anchor="middle" textLength="21" lengthAdjust="spacingAndGlyphs">7×10<tspan font-size="4.8" dy="-3.4">−6</tspan></text>
<text stroke="#231f20" stroke-width="0.1" x="283.7" y="498" font-size="8.6" text-anchor="middle" textLength="13.6" lengthAdjust="spacingAndGlyphs">FDR</text>
<text stroke="#231f20" stroke-width="0.1" x="283.4" y="507" font-size="8.6" text-anchor="middle" textLength="19.4" lengthAdjust="spacingAndGlyphs">&lt; 10<tspan font-size="4.8" dy="-3.4">−6</tspan></text>
<text stroke="#231f20" stroke-width="0.1" x="372.5" y="498" font-size="8.6" text-anchor="middle" textLength="13.6" lengthAdjust="spacingAndGlyphs">FDR</text>
<text stroke="#231f20" stroke-width="0.1" x="372.3" y="507" font-size="8.6" text-anchor="middle" textLength="21" lengthAdjust="spacingAndGlyphs">1×10<tspan font-size="4.8" dy="-3.4">−6</tspan></text>
<text stroke="#231f20" stroke-width="0.1" x="461.4" y="498" font-size="8.6" text-anchor="middle" textLength="13.6" lengthAdjust="spacingAndGlyphs">FDR</text>
<text stroke="#231f20" stroke-width="0.1" x="461.2" y="507" font-size="8.6" text-anchor="middle" textLength="21" lengthAdjust="spacingAndGlyphs">2×10<tspan font-size="4.8" dy="-3.4">−2</tspan></text>
<text stroke="#231f20" stroke-width="0.1" x="493.1" y="498" font-size="8.6" text-anchor="middle" textLength="13.6" lengthAdjust="spacingAndGlyphs">FDR</text>
<text stroke="#231f20" stroke-width="0.1" x="493.1" y="507" font-size="8.6" text-anchor="middle" textLength="14.73" lengthAdjust="spacingAndGlyphs">0.01</text>
</svg></div></body></html>
